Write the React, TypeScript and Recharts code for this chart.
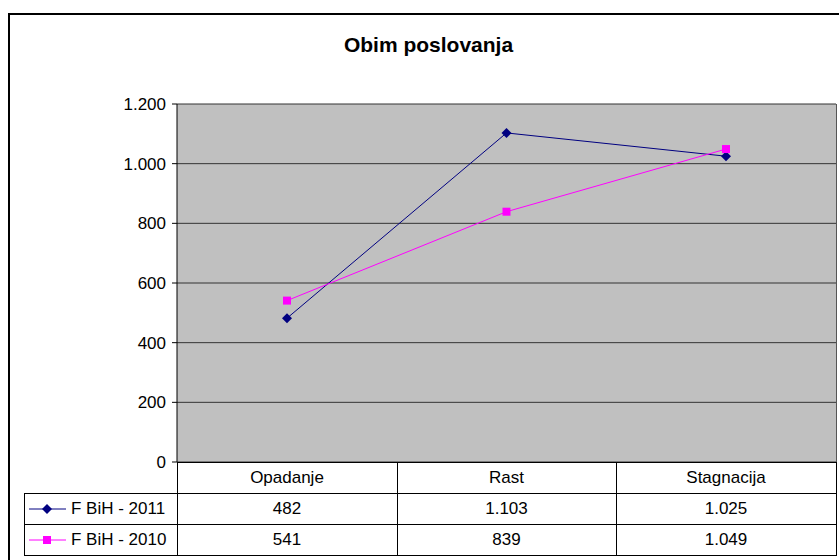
import { LineChart, Line, XAxis, YAxis, CartesianGrid } from 'recharts'

const categories = ['Opadanje', 'Rast', 'Stagnacija']
const fbih2011 = [482, 1103, 1025]
const fbih2010 = [541, 839, 1049]
const yTicks = [0, 200, 400, 600, 800, 1000, 1200]

const series = [
  { name: 'F BiH - 2011', key: 'y2011', values: fbih2011, color: '#000080', shape: 'diamond' },
  { name: 'F BiH - 2010', key: 'y2010', values: fbih2010, color: '#FF00FF', shape: 'square' },
]

const FONT = "'Liberation Sans', Arial, sans-serif"

const fmt = (v: number) => String(v).replace(/\B(?=(\d{3})+(?!\d))/g, '.')

const chartData = categories.map((c, i) => ({
  name: c,
  y2011: fbih2011[i],
  y2010: fbih2010[i],
}))

const Diamond = (props: any) => {
  const { cx, cy, stroke } = props
  if (cx == null || cy == null) return null
  const r = 5
  return (
    <polygon
      key={`d-${cx}`}
      points={`${cx},${cy - r} ${cx + r},${cy} ${cx},${cy + r} ${cx - r},${cy}`}
      fill={stroke}
      stroke="none"
    />
  )
}

const Square = (props: any) => {
  const { cx, cy, stroke } = props
  if (cx == null || cy == null) return null
  return <rect key={`s-${cx}`} x={cx - 4} y={cy - 4} width={8} height={8} fill={stroke} />
}

// plot geometry
const PL = 177
const PR = 836
const PT = 104
const PB = 462
const ROW = 31
const COLS = [PL, 397, 616, PR]
const LEG_L = 24

const line = (l: number, t: number, w: number, h: number, k: string) => (
  <div key={k} style={{ position: 'absolute', left: l, top: t, width: w, height: h, background: '#000' }} />
)

export default function App() {
  const lines = []
  // table horizontal lines
  lines.push(line(PL, PB, PR - PL + 1, 1, 'h0'))
  for (let r = 1; r <= 3; r++) lines.push(line(LEG_L, PB + r * ROW, PR - LEG_L + 1, 1, 'h' + r))
  // vertical
  COLS.forEach((x, i) => lines.push(line(x, PB, 1, ROW * 3, 'v' + i)))
  lines.push(line(LEG_L, PB + ROW, 1, ROW * 2, 'vl'))

  return (
    <div style={{ position: 'fixed', left: 0, top: 0, width: 839, height: 560, overflow: 'hidden', background: '#fff', fontFamily: FONT }}>
      <div style={{ position: 'absolute', left: 8, top: 13, width: 860, height: 600, border: '2px solid #000', boxSizing: 'border-box' }} />
      <div style={{ position: 'absolute', left: 0, top: 33, width: 857, textAlign: 'center', fontSize: 21, fontWeight: 700, color: '#000' }}>
        Obim poslovanja
      </div>

      <div style={{ position: 'absolute', left: 0, top: 0 }}>
        <LineChart width={839} height={560} data={chartData} margin={{ top: PT, left: 0, right: 839 - PR, bottom: 560 - PB }}>
          <CartesianGrid vertical={false} fill="#C0C0C0" stroke="#333" fillOpacity={1} horizontalValues={yTicks} />
          <XAxis dataKey="name" hide padding={{ left: 110, right: 110 }} />
          <YAxis
            width={PL}
            domain={[0, 1200]}
            ticks={yTicks}
            interval={0}
            tickFormatter={fmt}
            tick={{ fill: '#000', fontSize: 17, fontFamily: FONT }}
            axisLine={{ stroke: '#000' }}
            tickLine={{ stroke: '#000' }}
            tickSize={5}
            tickMargin={6}
          />
          {series.map(s => (
            <Line
              key={s.key}
              dataKey={s.key}
              name={s.name}
              stroke={s.color}
              strokeWidth={1}
              dot={s.shape === 'diamond' ? <Diamond /> : <Square />}
              activeDot={false}
              isAnimationActive={false}
            />
          ))}
        </LineChart>
      </div>

      {/* plot right border */}
      <div style={{ position: 'absolute', left: PR, top: PT, width: 1, height: PB - PT, background: '#555' }} />

      {/* data table */}
      {lines}
      {categories.map((c, i) => (
        <div key={c} style={{ position: 'absolute', left: COLS[i], top: PB, width: COLS[i + 1] - COLS[i], height: ROW, lineHeight: ROW + 'px', textAlign: 'center', fontSize: 17, color: '#000' }}>
          {c}
        </div>
      ))}
      {series.map((s, r) => (
        <div key={s.key}>
          <svg style={{ position: 'absolute', left: 28, top: PB + (r + 1) * ROW + 8 }} width={40} height={16}>
            <line x1={1} y1={8} x2={38} y2={8} stroke={s.color} strokeWidth={1} />
            {s.shape === 'diamond'
              ? <polygon points="19,3 24,8 19,13 14,8" fill={s.color} />
              : <rect x={15} y={4} width={8} height={8} fill={s.color} />}
          </svg>
          <div style={{ position: 'absolute', left: 71, top: PB + (r + 1) * ROW, height: ROW, lineHeight: ROW + 'px', fontSize: 17, color: '#000', whiteSpace: 'nowrap' }}>
            {s.name}
          </div>
          {s.values.map((v, i) => (
            <div key={i} style={{ position: 'absolute', left: COLS[i], top: PB + (r + 1) * ROW, width: COLS[i + 1] - COLS[i], height: ROW, lineHeight: ROW + 'px', textAlign: 'center', fontSize: 17, color: '#000' }}>
              {fmt(v)}
            </div>
          ))}
        </div>
      ))}
    </div>
  )
}
